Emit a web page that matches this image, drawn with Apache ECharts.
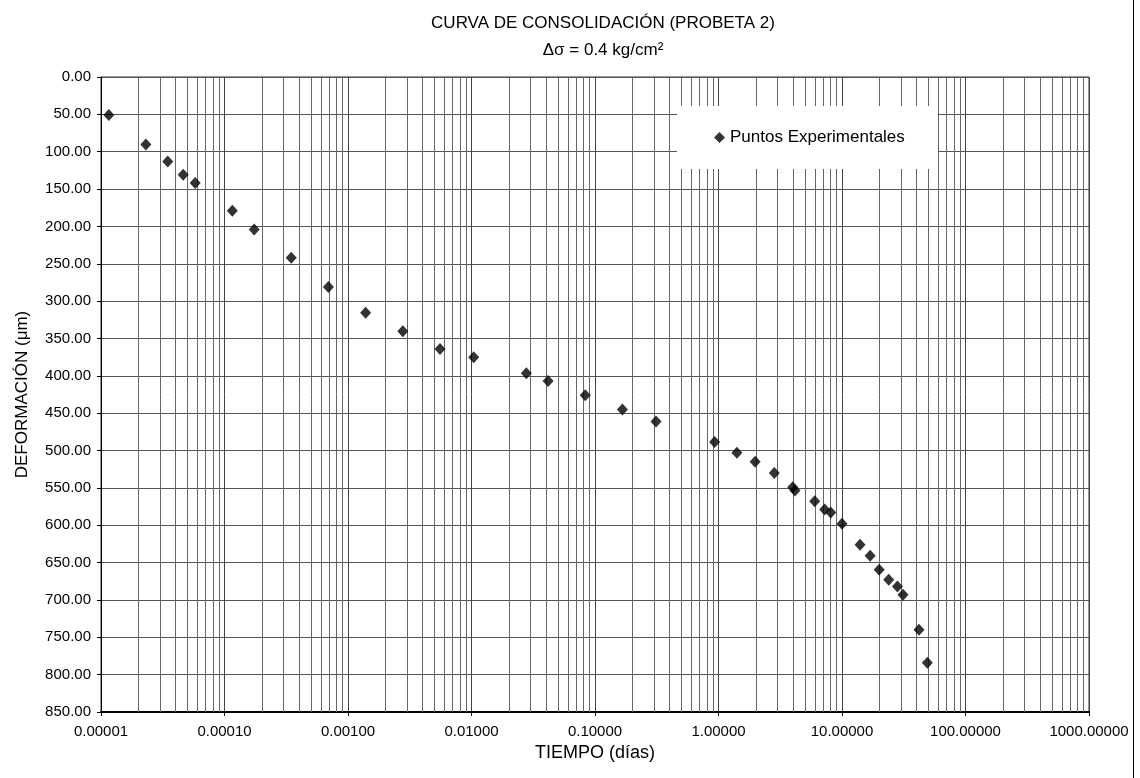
<!DOCTYPE html>
<html>
<head>
<meta charset="utf-8">
<script src="https://cdn.jsdelivr.net/npm/echarts@6/dist/echarts.min.js"></script>
<style>
html,body{margin:0;padding:0;background:#fff;}
#chart{width:1140px;height:778px;}
</style>
</head>
<body>
<div id="chart"></div>
<script>
// Tiempo (días) y deformación (µm)
const tiempo = [
  1.157e-5, 2.31e-5, 3.47e-5, 4.63e-5, 5.79e-5, 1.157e-4, 1.74e-4, 3.47e-4,
  6.94e-4, 1.389e-3, 2.78e-3, 5.56e-3, 1.042e-2, 2.78e-2, 4.17e-2, 8.33e-2,
  0.1667, 0.312, 0.93, 1.41, 1.98, 2.83, 3.99, 4.16, 6.01, 7.24, 8.11, 10.0,
  14.0, 16.9, 20.0, 23.9, 28.1, 31.2, 42.0, 49.1
];
const deformacion = [
  51, 90.5, 113, 131, 142, 179, 204, 242,
  281, 315.5, 340.5, 364, 375, 396.5, 407, 426,
  445, 461, 488.5, 503, 515, 530, 549, 553.5, 568, 579, 583, 598,
  626, 641, 659.5, 673, 682, 693, 740, 784
];
// Ejes
const xMin = 0.00001, xMax = 1000;
const yMin = 0, yMax = 850, yStep = 50;
const decadeExponents = [-5, -4, -3, -2, -1, 0, 1, 2];
const minorMultipliers = [2, 3, 4, 5, 6, 7, 8, 9];
const titleText = 'CURVA DE CONSOLIDACIÓN (PROBETA 2)';
const subText = 'Δσ = 0.4 kg/cm²';
const seriesName = 'Puntos Experimentales';
const xName = 'TIEMPO (días)';
const yName = 'DEFORMACIÓN (μm)';

const points = tiempo.map((t, i) => [t, deformacion[i]]);
const minorValues = [];
decadeExponents.forEach(k => minorMultipliers.forEach(m => {
  minorValues.push([m * Math.pow(10, k)]);
}));

const FONT = "'Liberation Sans', Arial, sans-serif";
const chart = echarts.init(document.getElementById('chart'), null, { renderer: 'canvas' });
chart.setOption({
  backgroundColor: '#fff',
  animation: false,
  textStyle: { fontFamily: FONT, color: '#000' },
  title: {
    text: titleText,
    subtext: subText,
    left: 598, textAlign: 'center',
    top: 10,
    itemGap: 10,
    textStyle: { fontFamily: FONT, fontSize: 17, fontWeight: 'normal', color: '#000' },
    subtextStyle: { fontFamily: FONT, fontSize: 17, color: '#000' }
  },
  legend: {
    data: [seriesName],
    left: 677, top: 106,
    backgroundColor: '#fff',
    padding: [23, 33, 23, 37],
    itemWidth: 11, itemHeight: 11,
    itemGap: 5,
    textStyle: { fontFamily: FONT, fontSize: 17, color: '#000' }
  },
  grid: {
    left: 101, right: 51, top: 77, bottom: 66,
    show: true, borderColor: '#333', borderWidth: 1, backgroundColor: 'transparent'
  },
  xAxis: {
    type: 'log', logBase: 10, min: xMin, max: xMax, splitNumber: 8,
    name: xName, nameLocation: 'middle', nameGap: 28,
    nameTextStyle: { fontFamily: FONT, fontSize: 18, color: '#000' },
    axisLine: { show: true, onZero: false, lineStyle: { color: '#000', width: 2 } },
    axisTick: { show: true, inside: false, length: 4, lineStyle: { color: '#000' } },
    axisLabel: { margin: 12, fontFamily: FONT, fontSize: 15, color: '#000',
      formatter: v => Number(v).toFixed(5) },
    splitLine: { show: true, lineStyle: { color: '#444', width: 1 } },
    minorTick: { show: false }
  },
  yAxis: {
    type: 'value', inverse: true, min: yMin, max: yMax, interval: yStep,
    name: yName, nameLocation: 'middle', nameGap: 70, nameRotate: 90,
    nameTextStyle: { fontFamily: FONT, fontSize: 17, color: '#000' },
    axisLine: { show: true, lineStyle: { color: '#000', width: 1 } },
    axisTick: { show: true, inside: false, length: 4, lineStyle: { color: '#000' } },
    axisLabel: { margin: 10, fontFamily: FONT, fontSize: 15, color: '#000',
      formatter: v => Number(v).toFixed(2) },
    splitLine: { show: true, lineStyle: { color: '#555', width: 1 } }
  },
  graphic: [{
    type: 'line', shape: { x1: 1133.5, y1: 0, x2: 1133.5, y2: 778 },
    style: { stroke: '#000', lineWidth: 1 }, silent: true
  }],
  series: [{
    type: 'custom',
    silent: true,
    z: 1,
    data: minorValues,
    renderItem: (params, api) => {
      const p1 = api.coord([api.value(0), yMin]);
      const p2 = api.coord([api.value(0), yMax]);
      const x = Math.round(p1[0]) + 0.5;
      return {
        type: 'line',
        shape: { x1: x, y1: p1[1], x2: x, y2: p2[1] },
        style: { stroke: '#666', lineWidth: 1 }
      };
    },
    encode: { x: 0 }
  }, {
    name: seriesName,
    type: 'scatter',
    symbol: 'diamond',
    symbolSize: [11, 12],
    itemStyle: { color: '#000' },
    data: points,
    z: 5
  }]
});
</script>
</body>
</html>
